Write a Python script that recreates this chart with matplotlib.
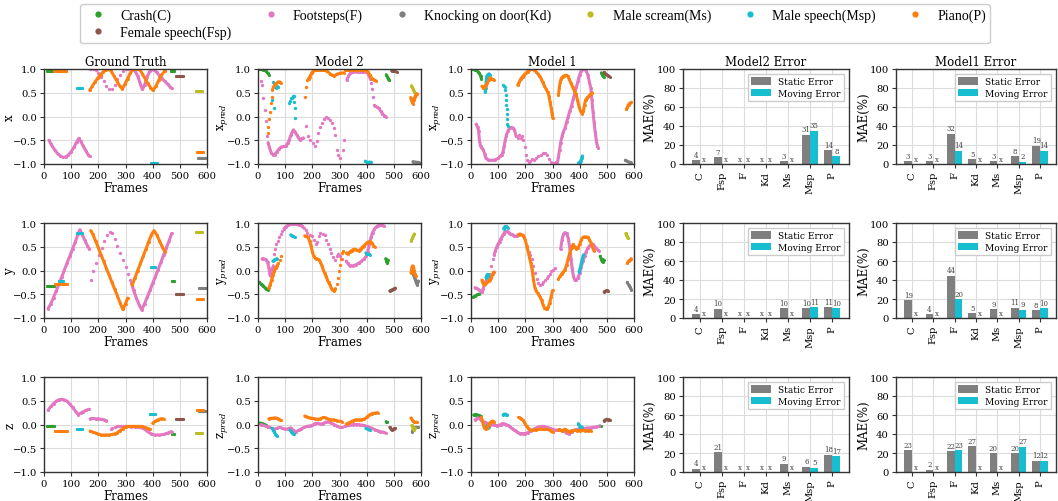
import numpy as np
import matplotlib.pyplot as plt
from matplotlib.lines import Line2D

plt.rcParams['font.family'] = ['DejaVu Serif']
plt.rcParams['mathtext.fontset'] = 'dejavuserif'

COLORS = {"C": "#2ca02c", "Fsp": "#8c564b", "F": "#e377c2", "Kd": "#7f7f7f",
          "Ms": "#bcbd22", "Msp": "#17becf", "P": "#ff7f0e"}
LEGEND_NAMES = [("C", "Crash(C)"), ("Fsp", "Female speech(Fsp)"), ("F", "Footsteps(F)"),
                ("Kd", "Knocking on door(Kd)"), ("Ms", "Male scream(Ms)"),
                ("Msp", "Male speech(Msp)"), ("P", "Piano(P)")]
ORDER = ["C", "Fsp", "F", "Kd", "Ms", "Msp", "P"]

# trajectories: (class, "l" dense / "d" dotted, [(frame, value), ...])
GT_X = [
    ("C", "l", [(10, 0.95), (33, 0.95)]),
    ("C", "l", [(466, 0.96), (478, 0.96)]),
    ("Msp", "l", [(52, 0.99), (75, 0.99)]),
    ("Msp", "l", [(120, 0.61), (140, 0.61)]),
    ("Msp", "l", [(395, -0.98), (415, -0.98)]),
    ("P", "l", [(35, 0.95), (82, 0.95)]),
    ("P", "l", [(168, 0.55), (178, 0.64), (188, 0.73), (198, 0.81), (208, 0.88), (218, 0.94),
                (228, 0.98), (238, 1.0), (248, 0.95), (258, 0.85), (268, 0.75), (278, 0.65),
                (288, 0.58), (298, 0.68), (308, 0.8), (318, 0.92), (328, 0.99), (340, 1.0),
                (352, 0.99), (362, 0.9), (372, 0.8), (382, 0.7), (392, 0.61), (402, 0.55),
                (412, 0.64), (422, 0.76), (432, 0.87), (445, 0.96)]),
    ("P", "l", [(562, -0.75), (585, -0.75)]),
    ("F", "l", [(18, -0.5), (25, -0.57), (30, -0.62), (40, -0.71), (50, -0.78), (60, -0.83),
                (70, -0.86), (80, -0.85), (90, -0.81), (100, -0.74), (110, -0.65), (120, -0.54),
                (128, -0.46), (135, -0.52), (145, -0.63), (155, -0.73), (162, -0.8), (168, -0.84)]),
    ("F", "d", [(170, 0.99), (180, 0.99), (190, 0.97), (200, 0.92), (210, 0.84), (220, 0.74),
                (230, 0.64), (240, 0.57), (250, 0.58), (260, 0.67), (270, 0.78), (280, 0.88),
                (290, 0.95), (300, 0.99), (310, 1.0), (320, 1.0)]),
    ("F", "l", [(325, 0.99), (335, 0.96), (345, 0.85), (355, 0.68), (362, 0.57), (370, 0.66),
                (380, 0.84), (390, 0.96), (397, 0.99), (405, 0.98), (415, 0.93), (425, 0.86),
                (435, 0.8), (445, 0.74), (455, 0.68), (463, 0.63), (470, 0.59)]),
    ("Fsp", "l", [(485, 0.86), (510, 0.86)]),
    ("Ms", "l", [(560, 0.53), (580, 0.53)]),
    ("Kd", "l", [(567, -0.88), (592, -0.88)]),
]

GT_Y = [
    ("C", "l", [(10, -0.33), (35, -0.33)]),
    ("C", "l", [(470, -0.22), (480, -0.22)]),
    ("Msp", "l", [(55, -0.22), (70, -0.22)]),
    ("Msp", "l", [(120, 0.78), (140, 0.78)]),
    ("Msp", "l", [(395, 0.07), (410, 0.07)]),
    ("P", "l", [(40, -0.29), (85, -0.29)]),
    ("P", "l", [(172, 0.84), (180, 0.76), (190, 0.62), (200, 0.48), (210, 0.33), (220, 0.19),
                (230, 0.04), (240, -0.1), (250, -0.25), (260, -0.39), (270, -0.53), (280, -0.68),
                (290, -0.82), (300, -0.7), (308, -0.58)]),
    ("P", "l", [(325, -0.3), (335, -0.15), (345, 0.0), (355, 0.15), (365, 0.3), (375, 0.45),
                (385, 0.6), (395, 0.75), (405, 0.84), (415, 0.75), (425, 0.63), (435, 0.5),
                (445, 0.4)]),
    ("P", "l", [(562, -0.6), (585, -0.6)]),
    ("F", "l", [(15, -0.8), (25, -0.7), (35, -0.57), (45, -0.43), (55, -0.29), (65, -0.14),
                (75, 0.01), (85, 0.16), (95, 0.3), (105, 0.45), (115, 0.6), (125, 0.76),
                (132, 0.86), (140, 0.76), (150, 0.64), (160, 0.52), (167, 0.45)]),
    ("F", "d", [(172, -0.2), (182, -0.02), (192, 0.15), (202, 0.32), (212, 0.48), (222, 0.62),
                (232, 0.74), (242, 0.82), (250, 0.8), (260, 0.66), (270, 0.52), (280, 0.37),
                (290, 0.22), (300, 0.07), (310, -0.08), (318, -0.2)]),
    ("F", "l", [(322, -0.27), (330, -0.42), (340, -0.58), (350, -0.72), (360, -0.83), (370, -0.7),
                (380, -0.56), (390, -0.42), (400, -0.27), (410, -0.13), (420, 0.02), (430, 0.17),
                (440, 0.32), (450, 0.47), (460, 0.62), (470, 0.78)]),
    ("Fsp", "l", [(485, -0.5), (510, -0.5)]),
    ("Ms", "l", [(560, 0.82), (580, 0.82)]),
    ("Kd", "l", [(570, -0.36), (595, -0.36)]),
]

GT_Z = [
    ("C", "l", [(10, -0.03), (35, -0.03)]),
    ("C", "l", [(470, -0.21), (480, -0.21)]),
    ("Msp", "l", [(120, -0.1), (140, -0.1)]),
    ("Msp", "l", [(390, 0.23), (410, 0.23)]),
    ("P", "l", [(40, -0.13), (85, -0.13)]),
    ("P", "l", [(170, -0.14), (180, -0.16), (190, -0.18), (200, -0.2), (210, -0.22), (220, -0.22),
                (230, -0.22), (240, -0.22), (250, -0.21), (260, -0.2), (270, -0.17), (280, -0.13),
                (290, -0.09), (300, -0.05), (310, -0.04), (320, -0.04), (330, -0.04), (340, -0.04),
                (350, -0.04), (360, -0.04), (370, -0.06), (380, -0.08), (390, -0.1)]),
    ("P", "l", [(400, 0.03), (410, 0.07), (420, 0.1), (430, 0.12), (440, 0.12)]),
    ("P", "l", [(562, 0.3), (585, 0.3)]),
    ("F", "l", [(15, 0.3), (25, 0.38), (35, 0.44), (45, 0.49), (55, 0.52), (65, 0.53), (75, 0.52),
                (85, 0.49), (95, 0.43), (105, 0.36), (115, 0.29), (125, 0.21), (135, 0.24),
                (145, 0.27), (155, 0.3), (165, 0.32)]),
    ("F", "l", [(170, 0.12), (180, 0.13), (190, 0.12), (200, 0.12), (210, 0.11), (220, 0.1),
                (230, 0.08)]),
    ("F", "d", [(245, -0.1), (252, -0.08), (260, -0.06), (268, -0.04), (275, -0.03),
                (283, -0.03), (290, -0.03), (298, -0.03)]),
    ("F", "l", [(305, -0.04), (320, -0.05), (335, -0.05), (350, -0.06), (365, -0.08),
                (380, -0.14), (395, -0.2), (410, -0.22), (425, -0.22), (440, -0.21),
                (455, -0.18), (470, -0.15)]),
    ("Fsp", "l", [(485, 0.12), (510, 0.12)]),
    ("Ms", "l", [(560, -0.18), (580, -0.18)]),
    ("Kd", "l", [(570, 0.28), (595, 0.28)]),
]

M2_X = [
    ("C", "l", [(5, 1.0), (10, 0.99), (15, 0.99), (20, 0.98), (25, 0.97), (30, 0.95), (35, 0.92),
                (40, 0.88)]),
    ("C", "l", [(472, 0.88), (476, 0.84), (480, 0.8), (484, 0.76)]),
    ("Msp", "d", [(53, 0.35), (56, 0.72), (58, 0.17), (60, 0.7), (63, 0.66), (66, 0.62),
                  (68, 0.6), (71, 0.64), (74, 0.62)]),
    ("Msp", "d", [(115, 0.28), (118, 0.33), (121, 0.38), (124, 0.4), (127, 0.42), (130, 0.43),
                  (132, 0.44), (134, 0.3), (136, 0.17), (138, -0.03)]),
    ("Msp", "l", [(395, -0.94), (400, -0.96), (405, -0.97), (410, -0.96), (415, -0.96)]),
    ("P", "d", [(35, -0.35), (38, -0.22), (41, -0.05), (44, 0.1), (47, 0.28), (50, 0.42)]),
    ("P", "l", [(53, 0.56), (57, 0.62), (62, 0.67), (68, 0.7), (74, 0.73), (80, 0.73), (84, 0.7)]),
    ("P", "d", [(173, 0.42), (177, 0.62), (181, 0.76)]),
    ("P", "l", [(186, 0.8), (191, 0.84), (198, 0.92), (204, 0.96), (215, 0.97), (230, 0.97),
                (245, 0.97), (255, 0.95), (265, 0.9), (272, 0.87), (280, 0.85), (290, 0.89),
                (300, 0.91), (315, 0.92)]),
    ("P", "l", [(322, 0.97), (335, 0.97), (350, 0.97), (365, 0.97), (380, 0.97), (395, 0.97),
                (405, 0.94), (412, 0.87), (420, 0.8), (428, 0.77), (435, 0.75)]),
    ("P", "l", [(562, 0.4), (566, 0.32), (570, 0.27), (574, 0.35), (578, 0.42), (582, 0.46),
                (586, 0.48)]),
    ("F", "d", [(12, 0.74), (16, 0.67), (20, 0.4), (25, 0.14), (30, -0.1), (34, -0.42)]),
    ("F", "l", [(37, -0.55), (42, -0.65), (49, -0.77), (55, -0.8), (62, -0.8), (70, -0.74),
                (78, -0.68), (86, -0.64), (95, -0.63), (102, -0.63), (110, -0.56), (115, -0.49),
                (122, -0.38), (130, -0.28), (136, -0.32), (142, -0.38), (148, -0.44),
                (154, -0.49), (160, -0.47), (167, -0.45)]),
    ("F", "d", [(177, -0.21), (185, -0.42), (193, -0.5), (201, -0.56), (210, -0.63),
                (216, -0.52), (222, -0.35), (228, -0.22), (235, -0.14), (242, -0.06), (250, 0.0),
                (259, -0.03), (266, -0.07), (272, -0.14), (278, -0.25), (284, -0.38),
                (290, -0.7), (296, -0.82), (300, -0.87), (312, -0.7), (317, -0.5)]),
    ("F", "l", [(327, 0.77), (333, 0.85), (340, 0.91), (350, 0.93), (364, 0.94), (375, 0.93),
                (388, 0.93), (400, 0.93), (407, 0.88), (413, 0.8)]),
    ("F", "d", [(417, 0.7), (420, 0.58), (423, 0.42), (426, 0.25)]),
    ("F", "l", [(430, 0.22), (438, 0.2), (445, 0.17), (452, 0.11), (458, 0.06), (465, 0.02),
                (470, 0.0)]),
    ("Fsp", "l", [(492, 0.96), (500, 0.95), (510, 0.94)]),
    ("Ms", "l", [(565, 0.65), (568, 0.62), (571, 0.57), (574, 0.53), (577, 0.5)]),
    ("Kd", "l", [(570, -0.95), (580, -0.96), (594, -0.97)]),
]

M1_X = [
    ("C", "l", [(8, 0.99), (14, 0.98), (20, 0.97), (26, 0.94), (31, 0.91), (35, 0.86), (38, 0.8)]),
    ("C", "l", [(480, 0.92), (484, 0.88), (488, 0.83)]),
    ("Msp", "l", [(52, 0.52), (54, 0.6), (56, 0.75), (58, 0.85), (62, 0.88), (66, 0.9),
                  (70, 0.88)]),
    ("Msp", "d", [(118, 0.66), (121, 0.65), (124, 0.62), (126, 0.55), (128, 0.45), (129, 0.35),
                  (130, 0.25), (131, 0.15), (132, 0.05), (133, -0.05), (134, -0.15),
                  (135, -0.2)]),
    ("Msp", "l", [(395, -0.98), (400, -0.97), (404, -0.93), (408, -0.87), (410, -0.83)]),
    ("P", "l", [(40, 0.64), (45, 0.6), (50, 0.62), (55, 0.66), (60, 0.7), (65, 0.76), (70, 0.82),
                (75, 0.8), (80, 0.78), (85, 0.76)]),
    ("P", "l", [(172, 0.66), (178, 0.73), (184, 0.8), (190, 0.84), (196, 0.88), (202, 0.91),
                (208, 0.94), (214, 0.97), (220, 0.99), (226, 0.99), (233, 0.98), (240, 0.94),
                (246, 0.9), (252, 0.86), (258, 0.8), (264, 0.72), (270, 0.65), (276, 0.58),
                (282, 0.52), (287, 0.43), (291, 0.3), (295, 0.18), (298, 0.08), (301, -0.04)]),
    ("P", "l", [(322, 0.45), (325, 0.6), (328, 0.72), (332, 0.8), (338, 0.84), (344, 0.86),
                (350, 0.87), (356, 0.85), (362, 0.78), (368, 0.7), (374, 0.62), (380, 0.55),
                (386, 0.48), (392, 0.35), (398, 0.2), (404, 0.1), (410, 0.06), (414, 0.12),
                (418, 0.25), (422, 0.35), (428, 0.4), (434, 0.43), (440, 0.47), (446, 0.5)]),
    ("P", "l", [(572, 0.15), (576, 0.2), (580, 0.25), (585, 0.28), (590, 0.3)]),
    ("F", "l", [(19, -0.16), (24, -0.22), (28, -0.3), (31, -0.5), (35, -0.62), (40, -0.67),
                (45, -0.7), (50, -0.78), (55, -0.88), (62, -0.91), (70, -0.92), (80, -0.92),
                (90, -0.91), (100, -0.88), (108, -0.84), (114, -0.8), (118, -0.74), (122, -0.62),
                (126, -0.5), (130, -0.4), (136, -0.3), (142, -0.25), (148, -0.23), (154, -0.24),
                (160, -0.28), (166, -0.42)]),
    ("F", "d", [(172, -0.45), (178, -0.38), (183, -0.45), (188, -0.42), (193, -0.5), (197, -0.65),
                (202, -0.8), (207, -0.92), (212, -0.95), (218, -0.93), (225, -0.9), (232, -0.92),
                (240, -0.88), (248, -0.83), (256, -0.8), (264, -0.76), (272, -0.77), (280, -0.82),
                (288, -0.9), (296, -0.96), (304, -0.97), (312, -0.96)]),
    ("F", "l", [(318, -0.97), (322, -0.85), (326, -0.7), (330, -0.55), (335, -0.42), (340, -0.32),
                (346, -0.25), (352, -0.12), (358, 0.0), (364, 0.12), (370, 0.22), (376, 0.36),
                (382, 0.5), (388, 0.62), (394, 0.75), (400, 0.88), (406, 0.96), (412, 1.0),
                (418, 0.99), (424, 0.96), (430, 0.88), (436, 0.72), (441, 0.6), (445, 0.35),
                (449, 0.1), (453, -0.12), (457, -0.32), (461, -0.5), (465, -0.62), (469, -0.67)]),
    ("Fsp", "l", [(490, 0.93), (495, 0.9), (500, 0.88), (505, 0.86), (510, 0.84)]),
    ("Kd", "l", [(568, -0.92), (575, -0.94), (582, -0.96), (590, -0.97)]),
]

M2_Y = [
    ("C", "l", [(5, -0.25), (10, -0.28), (15, -0.3), (20, -0.33), (25, -0.36), (30, -0.38),
                (35, -0.4)]),
    ("C", "l", [(470, 0.25), (473, 0.2), (476, 0.15), (478, 0.22)]),
    ("Msp", "l", [(55, 0.2), (60, 0.22), (65, 0.24), (70, 0.25)]),
    ("Msp", "l", [(120, 0.75), (125, 0.73), (130, 0.72), (135, 0.7)]),
    ("Msp", "l", [(397, 0.37), (402, 0.35), (407, 0.34), (411, 0.33)]),
    ("P", "l", [(40, -0.37), (45, -0.3), (50, -0.2), (55, -0.1), (60, -0.02), (65, 0.05),
                (70, 0.1), (75, 0.15)]),
    ("P", "d", [(80, 0.22), (85, 0.3)]),
    ("P", "l", [(172, 0.73), (178, 0.72), (184, 0.7), (190, 0.62), (195, 0.52), (200, 0.4),
                (205, 0.3), (210, 0.26), (215, 0.25), (220, 0.24), (225, 0.22), (230, 0.18),
                (235, 0.1), (240, 0.02), (245, -0.05), (250, -0.12), (255, -0.19), (260, -0.25),
                (265, -0.31), (270, -0.37), (275, -0.42), (280, -0.43), (285, -0.38)]),
    ("P", "d", [(290, -0.28), (294, -0.15), (298, -0.02), (302, 0.12), (306, 0.25), (310, 0.37),
                (313, 0.42)]),
    ("P", "l", [(325, 0.37), (330, 0.35), (335, 0.38), (340, 0.4), (345, 0.42), (350, 0.44),
                (355, 0.45), (360, 0.44), (365, 0.43), (370, 0.42), (375, 0.43), (380, 0.46),
                (385, 0.5), (390, 0.52), (395, 0.55), (400, 0.58), (405, 0.6), (410, 0.61),
                (415, 0.6), (420, 0.57), (425, 0.52), (430, 0.5)]),
    ("P", "l", [(563, -0.05), (566, 0.05), (569, 0.1), (572, 0.08), (575, 0.0), (578, -0.08),
                (581, -0.12)]),
    ("F", "l", [(15, 0.25), (20, 0.25), (25, 0.24), (30, 0.23), (35, 0.18), (40, 0.06),
                (44, -0.1), (47, -0.12), (52, 0.0), (56, 0.1)]),
    ("F", "d", [(60, 0.35), (64, 0.45), (68, 0.55), (72, 0.62), (78, 0.7), (84, 0.77),
                (90, 0.83)]),
    ("F", "l", [(96, 0.88), (102, 0.92), (110, 0.95), (120, 0.97), (130, 0.97), (140, 0.97),
                (150, 0.96), (157, 0.95), (163, 0.93), (168, 0.9)]),
    ("F", "d", [(175, 0.85), (182, 0.78), (190, 0.74), (198, 0.72), (206, 0.65), (212, 0.55),
                (218, 0.6), (224, 0.72), (230, 0.78), (238, 0.77), (245, 0.74), (252, 0.65),
                (258, 0.55), (264, 0.45), (270, 0.36), (276, 0.28), (282, 0.23), (290, 0.3),
                (296, 0.34), (302, 0.3), (308, 0.24)]),
    ("F", "l", [(325, 0.2), (330, 0.15), (335, 0.12), (340, 0.1), (350, 0.1), (360, 0.12),
                (370, 0.15), (380, 0.19), (390, 0.24), (398, 0.3), (404, 0.4), (410, 0.55),
                (416, 0.7), (422, 0.8), (428, 0.87), (434, 0.91), (440, 0.94), (448, 0.96),
                (456, 0.95), (465, 0.93)]),
    ("Fsp", "l", [(485, -0.43), (492, -0.41), (499, -0.39), (505, -0.37)]),
    ("Ms", "l", [(564, 0.62), (568, 0.68), (572, 0.73), (576, 0.77)]),
    ("Kd", "l", [(570, -0.05), (574, -0.12), (578, -0.18), (582, -0.25), (586, -0.3),
                 (590, -0.22)]),
]

M1_Y = [
    ("C", "l", [(8, -0.56), (14, -0.54), (20, -0.52), (26, -0.5), (31, -0.5)]),
    ("C", "l", [(476, 0.3), (479, 0.25), (482, 0.2), (485, 0.18), (488, 0.23)]),
    ("Msp", "l", [(55, -0.15), (58, -0.1), (61, -0.08), (64, -0.12)]),
    ("Msp", "l", [(120, 0.88), (124, 0.92), (128, 0.93), (132, 0.92), (136, 0.9)]),
    ("Msp", "l", [(398, -0.03), (402, 0.05), (406, 0.15), (410, 0.25), (414, 0.33)]),
    ("P", "l", [(40, -0.2), (44, -0.27), (48, -0.3), (52, -0.28), (56, -0.26), (60, -0.24),
                (65, -0.22), (70, -0.19), (75, -0.15), (80, -0.08), (84, -0.03)]),
    ("P", "l", [(175, 0.75), (180, 0.77), (185, 0.76), (190, 0.74), (195, 0.7), (200, 0.64),
                (205, 0.52), (210, 0.4), (215, 0.28), (220, 0.15), (225, 0.02), (230, -0.2),
                (235, -0.36), (240, -0.43), (245, -0.47), (250, -0.52), (255, -0.56),
                (260, -0.63), (265, -0.72), (270, -0.78), (275, -0.81), (280, -0.8),
                (285, -0.76), (290, -0.68), (295, -0.55), (300, -0.42)]),
    ("P", "l", [(322, -0.18), (328, -0.12), (334, -0.07), (340, -0.03), (346, 0.02), (352, 0.12),
                (358, 0.25), (364, 0.38), (370, 0.48), (376, 0.55), (382, 0.5), (388, 0.46),
                (394, 0.48), (400, 0.55), (406, 0.65), (412, 0.7), (418, 0.71), (424, 0.71),
                (430, 0.7), (436, 0.65), (442, 0.58), (448, 0.48), (452, 0.42)]),
    ("P", "l", [(575, 0.15), (580, 0.2), (585, 0.22), (590, 0.25)]),
    ("F", "l", [(15, -0.36), (20, -0.37), (25, -0.39), (30, -0.41), (35, -0.44), (40, -0.46),
                (45, -0.38), (50, -0.28), (55, -0.22), (60, -0.18), (65, -0.14), (70, -0.08)]),
    ("F", "d", [(75, 0.1), (80, 0.25)]),
    ("F", "l", [(85, 0.33), (90, 0.42), (95, 0.5), (100, 0.56), (105, 0.61), (110, 0.67),
                (115, 0.72), (120, 0.77), (125, 0.81), (130, 0.83), (135, 0.82), (140, 0.8),
                (145, 0.77), (150, 0.76), (155, 0.74), (160, 0.72), (165, 0.72), (170, 0.73),
                (175, 0.76)]),
    ("F", "d", [(205, 0.5), (212, 0.4), (218, 0.33), (224, 0.25), (230, 0.1), (236, -0.05),
                (242, -0.18), (248, -0.26), (254, -0.3), (260, -0.29), (266, -0.24),
                (272, -0.2), (278, -0.16), (284, -0.12), (290, -0.07), (296, -0.02),
                (302, 0.02), (308, 0.05)]),
    ("F", "l", [(330, 0.45), (335, 0.65), (340, 0.76), (346, 0.8), (352, 0.78), (358, 0.68),
                (363, 0.5), (368, 0.25), (372, 0.05), (377, -0.12), (382, -0.2), (388, -0.2),
                (394, -0.15), (400, -0.05), (406, 0.08), (412, 0.2), (418, 0.3), (424, 0.4),
                (430, 0.47), (436, 0.52), (442, 0.54), (448, 0.55), (454, 0.52), (460, 0.47),
                (466, 0.44), (470, 0.42)]),
    ("Fsp", "l", [(490, -0.45), (495, -0.43), (500, -0.42), (505, -0.44)]),
    ("Ms", "l", [(570, 0.78), (574, 0.72), (578, 0.68)]),
    ("Kd", "l", [(575, -0.25), (580, -0.3), (585, -0.35), (590, -0.4)]),
]

M2_Z = [
    ("C", "l", [(5, 0.03), (10, 0.03), (15, 0.02), (20, 0.01), (25, 0.0), (30, -0.02),
                (35, -0.05)]),
    ("C", "l", [(472, 0.06), (476, 0.05)]),
    ("Msp", "l", [(52, -0.08), (56, -0.12), (60, -0.16), (64, -0.2), (68, -0.23), (71, -0.24)]),
    ("Msp", "l", [(118, -0.12), (122, -0.15), (126, -0.17), (130, -0.19), (134, -0.2)]),
    ("Msp", "l", [(397, -0.08), (404, -0.1), (411, -0.12)]),
    ("P", "l", [(40, 0.12), (45, 0.13), (50, 0.13), (55, 0.13), (60, 0.14), (65, 0.14),
                (70, 0.13), (75, 0.12), (80, 0.1), (85, 0.09)]),
    ("P", "l", [(172, 0.18), (180, 0.16), (190, 0.14), (200, 0.13), (210, 0.12), (220, 0.11),
                (230, 0.12), (240, 0.15), (250, 0.14), (260, 0.11), (270, 0.1), (280, 0.1),
                (290, 0.08), (300, 0.07), (308, 0.06)]),
    ("P", "l", [(325, 0.01), (333, 0.03), (340, 0.05), (350, 0.08), (360, 0.1), (370, 0.1),
                (380, 0.1), (390, 0.11), (400, 0.15), (410, 0.2), (420, 0.23), (430, 0.24),
                (440, 0.25)]),
    ("P", "l", [(563, 0.14), (567, 0.1), (571, 0.07), (575, 0.05), (580, 0.05), (585, 0.05)]),
    ("F", "l", [(10, 0.0), (20, -0.02), (30, -0.04), (40, -0.05), (50, -0.08), (60, -0.1),
                (70, -0.08), (80, -0.06), (90, -0.08), (100, -0.1), (110, -0.09), (120, -0.07),
                (130, -0.12), (140, -0.15), (150, -0.12), (160, -0.09), (170, -0.06),
                (180, -0.04), (190, -0.03), (200, -0.02), (210, 0.02), (220, 0.03), (230, 0.01),
                (240, 0.02), (250, 0.05), (260, 0.06), (270, 0.03), (280, 0.0), (290, -0.03),
                (300, -0.06), (310, -0.06)]),
    ("F", "l", [(320, -0.04), (330, -0.02), (340, -0.01), (350, 0.0), (360, 0.0), (370, 0.0),
                (380, -0.01), (390, -0.02), (400, -0.04), (410, -0.06), (420, -0.08),
                (430, -0.11), (440, -0.13), (450, -0.15), (460, -0.16), (470, -0.18)]),
    ("Fsp", "l", [(485, -0.06), (490, -0.1), (495, -0.12), (500, -0.09), (505, -0.08)]),
    ("Ms", "l", [(566, -0.02), (569, -0.06), (572, -0.1), (575, -0.12), (578, -0.08)]),
    ("Kd", "l", [(568, -0.15), (572, -0.1), (576, -0.07), (580, -0.06), (585, -0.06),
                 (590, -0.06)]),
]

M1_Z = [
    ("C", "l", [(10, 0.2), (15, 0.21), (20, 0.21), (25, 0.2), (30, 0.19), (35, 0.17)]),
    ("C", "l", [(474, -0.03), (478, -0.04)]),
    ("Msp", "l", [(55, -0.03), (58, -0.06), (62, -0.08), (66, -0.05)]),
    ("Msp", "l", [(118, 0.2), (122, 0.22), (126, 0.22), (130, 0.21), (134, 0.2)]),
    ("Msp", "l", [(395, 0.02), (398, -0.02), (401, -0.05), (404, -0.08), (408, -0.05)]),
    ("P", "l", [(38, 0.15), (42, 0.08), (46, -0.02), (50, -0.08), (54, -0.1), (58, -0.08),
                (62, -0.04), (66, 0.0), (70, 0.04), (75, 0.06), (80, 0.07), (85, 0.05)]),
    ("P", "l", [(175, 0.15), (180, 0.14), (185, 0.12), (190, 0.1), (195, 0.06), (200, 0.01),
                (205, -0.04), (210, -0.08), (215, -0.1), (220, -0.12), (225, -0.12),
                (230, -0.12), (240, -0.11), (250, -0.1), (260, -0.1), (270, -0.1), (280, -0.1),
                (290, -0.12), (295, -0.14), (300, -0.16)]),
    ("P", "l", [(320, -0.12), (325, -0.1), (330, -0.12), (335, -0.14), (340, -0.12),
                (345, -0.1), (350, -0.11), (355, -0.13), (360, -0.16), (365, -0.15),
                (370, -0.13), (380, -0.12), (390, -0.13), (400, -0.13), (410, -0.12),
                (420, -0.13), (430, -0.13), (440, -0.13)]),
    ("F", "l", [(15, 0.1), (20, 0.12), (25, 0.14), (30, 0.13), (35, 0.1), (40, 0.08), (45, 0.06),
                (50, 0.05), (55, 0.04), (60, 0.02), (65, 0.0), (70, -0.01), (75, 0.0), (80, 0.02),
                (85, 0.0), (90, -0.02), (95, -0.03), (100, -0.02), (105, -0.01), (110, 0.0),
                (115, 0.02), (120, 0.02), (125, 0.01), (130, 0.0), (135, -0.02), (140, -0.03),
                (145, -0.05), (150, -0.08), (155, -0.1), (160, -0.12), (165, -0.13),
                (170, -0.16), (175, -0.18), (180, -0.19), (190, -0.19), (200, -0.19),
                (210, -0.17), (220, -0.13), (230, -0.1), (240, -0.07), (250, -0.05),
                (260, -0.04), (270, -0.04), (280, -0.06), (290, -0.08), (300, -0.1),
                (310, -0.12), (320, -0.12), (330, -0.12), (340, -0.13), (350, -0.17),
                (360, -0.2), (370, -0.15), (380, -0.12), (390, -0.1), (400, -0.1), (410, -0.09),
                (420, -0.08), (430, -0.07), (440, -0.07), (450, -0.06), (460, -0.05),
                (470, -0.04)]),
    ("Fsp", "l", [(490, 0.08), (495, 0.1), (500, 0.11), (505, 0.1), (510, 0.1)]),
]

# bar charts: MAE(%) per class, nan = "x"
BAR_CLASSES = ["C", "Fsp", "F", "Kd", "Ms", "Msp", "P"]
nan = np.nan
M2_ERR_X_STATIC = [4.2, 7.2, nan, nan, 3.2, 31, 14.4]
M2_ERR_X_MOVING = [nan, nan, nan, nan, nan, 35, 8.2]
M1_ERR_X_STATIC = [3.1, 3.1, 32, 5.2, 3.1, 8.2, 19.4]
M1_ERR_X_MOVING = [nan, nan, 14.2, nan, nan, 2.4, 14.2]
M2_ERR_Y_STATIC = [4.2, 9.6, nan, nan, 10.3, 10.4, 11.3]
M2_ERR_Y_MOVING = [nan, nan, nan, nan, nan, 11.4, 10.3]
M1_ERR_Y_STATIC = [19, 4.2, 44.4, 5.2, 9.2, 10.8, 8.3]
M1_ERR_Y_MOVING = [nan, nan, 20, nan, nan, 8.6, 10.4]
M2_ERR_Z_STATIC = [3.6, 21, nan, nan, 8.6, 5.7, 18]
M2_ERR_Z_MOVING = [nan, nan, nan, nan, nan, 4.6, 16.8]
M1_ERR_Z_STATIC = [23, 2.2, 21.6, 27, 20, 20, 12]
M1_ERR_Z_MOVING = [nan, nan, 23, nan, nan, 26.6, 12]

W, H = 1058, 502
fig = plt.figure(figsize=(W / 100, H / 100), dpi=100)
fig.patch.set_facecolor("white")

col_left = [44, 258, 471, 683, 896]
col_width = [163, 163, 163, 166, 160]
row_top = [70, 224, 378]
row_h = 95


def make_ax(r, c):
    l = col_left[c]
    t = row_top[r]
    return fig.add_axes([l / W, 1 - (t + row_h) / H, col_width[c] / W, row_h / H])


def style(ax, tsize):
    ax.grid(True, color="#dcdcdc", lw=0.8)
    ax.set_axisbelow(True)
    for s in ax.spines.values():
        s.set_color("#333333")
        s.set_linewidth(1.0)
    ax.tick_params(labelsize=tsize, length=3, width=0.8, color="#333333", pad=2)


def draw_traj(ax, segs, ylabel, title=None):
    for cls in ORDER:
        for c, mode, pts in segs:
            if c != cls:
                continue
            f = [p[0] for p in pts]
            v = [p[1] for p in pts]
            if mode == "l":
                ax.plot(f, v, color=COLORS[c], lw=2.2, solid_capstyle="round",
                        marker="o", ms=2.2, mew=0)
            else:
                ax.plot(f, v, ls="none", color=COLORS[c], marker="o", ms=2.4, mew=0)
    ax.set_xlim(0, 600)
    ax.set_ylim(-1.0, 1.0)
    ax.set_xticks([0, 100, 200, 300, 400, 500, 600])
    ax.set_yticks([-1.0, -0.5, 0.0, 0.5, 1.0])
    ax.set_xlabel("Frames", fontsize=8.5, labelpad=1)
    ax.set_ylabel(ylabel, fontsize=8.5)
    ax.yaxis.set_label_coords(-0.17, 0.5)
    if title:
        ax.set_title(title, fontsize=8.5, pad=3)
    style(ax, 7.2)


def draw_bars(ax, static, moving, title=None):
    x = np.arange(len(BAR_CLASSES))
    w = 0.36
    s = np.array(static, dtype=float)
    m = np.array(moving, dtype=float)
    ax.bar(x - w / 2, np.nan_to_num(s), w, color="#7f7f7f", label="Static Error")
    ax.bar(x + w / 2, np.nan_to_num(m), w, color="#17becf", label="Moving Error")
    for xs, vals in ((x - w / 2, s), (x + w / 2, m)):
        for xi, v in zip(xs, vals):
            if np.isnan(v):
                ax.text(xi, 0.8, "x", ha="center", va="bottom", fontsize=5, color="#444444")
            else:
                ax.text(xi, v + 1.5, f"{v:.0f}", ha="center", va="bottom", fontsize=5,
                        color="#444444")
    ax.set_xlim(-0.75, 6.75)
    ax.set_ylim(0, 100)
    ax.set_yticks([0, 20, 40, 60, 80, 100])
    ax.set_xticks(x)
    ax.set_xticklabels(BAR_CLASSES, rotation=90)
    ax.set_ylabel("MAE(%)", fontsize=8.5)
    ax.yaxis.set_label_coords(-0.16, 0.5)
    ax.legend(loc="upper right", fontsize=6.5, handlelength=2.2, handleheight=0.9,
              borderpad=0.4, labelspacing=0.3, framealpha=1, edgecolor="#cccccc",
              fancybox=False)
    if title:
        ax.set_title(title, fontsize=8.5, pad=3)
    style(ax, 7.2)


traj = [(GT_X, M2_X, M1_X, "x"), (GT_Y, M2_Y, M1_Y, "y"), (GT_Z, M2_Z, M1_Z, "z")]
bars = [(M2_ERR_X_STATIC, M2_ERR_X_MOVING, M1_ERR_X_STATIC, M1_ERR_X_MOVING),
        (M2_ERR_Y_STATIC, M2_ERR_Y_MOVING, M1_ERR_Y_STATIC, M1_ERR_Y_MOVING),
        (M2_ERR_Z_STATIC, M2_ERR_Z_MOVING, M1_ERR_Z_STATIC, M1_ERR_Z_MOVING)]

for r in range(3):
    gt, m2, m1, axis_name = traj[r]
    first = r == 0
    draw_traj(make_ax(r, 0), gt, axis_name, "Ground Truth" if first else None)
    draw_traj(make_ax(r, 1), m2, axis_name + "$_{pred}$", "Model 2" if first else None)
    draw_traj(make_ax(r, 2), m1, axis_name + "$_{pred}$", "Model 1" if first else None)
    s2, mv2, s1, mv1 = bars[r]
    draw_bars(make_ax(r, 3), s2, mv2, "Model2 Error" if first else None)
    draw_bars(make_ax(r, 4), s1, mv1, "Model1 Error" if first else None)

handles = [Line2D([], [], ls="none", marker="o", ms=4.5, mew=0, color=COLORS[k])
           for k, _ in LEGEND_NAMES]
labels = [n for _, n in LEGEND_NAMES]
fig.legend(handles, labels, loc="upper left", ncol=6, mode="expand",
           bbox_to_anchor=(80 / W, 1 - 5 / H, 910 / W, 0.0),
           prop={"family": "Liberation Serif", "size": 10}, handletextpad=0.6,
           labelspacing=0.3, borderpad=0.3, fancybox=True, edgecolor="#cccccc",
           framealpha=1, borderaxespad=0)

fig.savefig("out.png", dpi=100)
